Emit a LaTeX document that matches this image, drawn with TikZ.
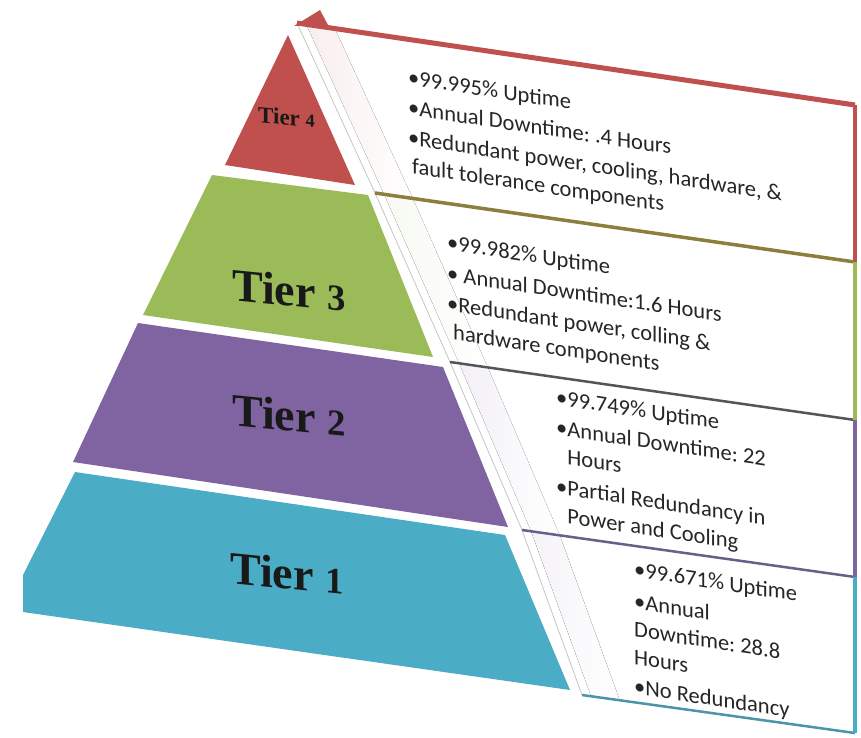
\documentclass[tikz,border=0pt]{standalone}
\usepackage{fontspec}
\usepackage{graphicx}
\setmainfont{Liberation Serif}
\newfontfamily\calibri{Carlito}
\usetikzlibrary{calc}

\definecolor{tred}{HTML}{C0504D}
\definecolor{tgreen}{HTML}{9BBB59}
\definecolor{tpurple}{HTML}{8064A2}
\definecolor{tteal}{HTML}{4BACC6}
\definecolor{olivebord}{HTML}{8C7F3C}
\definecolor{grisbord}{HTML}{55545A}
\definecolor{violbord}{HTML}{6A5F8A}
\definecolor{tealbord}{HTML}{4A95AA}

\newcommand{\chiffre}[2][0pt]{\raisebox{#1}{\scalebox{0.8}{#2}}}

\tikzset{
  palier/.style={font=\bfseries\fontsize{#1}{#1}\selectfont, anchor=base west,
    inner sep=0pt, yslant=-0.1, text=black!90},
  infos/.style={font=\calibri\fontsize{22.5}{28}\selectfont\frenchspacing, align=left,
    anchor=north west, inner sep=0pt, yslant=-0.15, text=black!85},
  bande/.style={left color=#1, right color=white, draw=none},
}

\begin{document}
\begin{tikzpicture}[x=1pt, y=-1pt]

  \useasboundingbox (0,0) rectangle (861,737);
  \fill[white] (0,0) rectangle (861,737);

  % Paliers
  \fill[tred] (288,35) -- (355,185) -- (225,165) -- cycle;
  \fill[tgreen] (212,175) -- (368,195) -- (433,357) -- (143,315) -- cycle;
  \fill[tpurple] (138,323) -- (443,367) -- (508,527) -- (73,462) -- cycle;
  \fill[tteal] (75,472) -- (505,535) -- (570,690) -- (23,612) -- (23,575) -- cycle;

  % Face de droite
  \coordinate (g0) at (297,23);
  \coordinate (g1) at (375,193);
  \coordinate (g2) at (450,362);
  \coordinate (g3) at (522,530);
  \coordinate (g4) at (582,695);
  \coordinate (d0) at (855,105);
  \coordinate (d1) at (855,262);
  \coordinate (d2) at (855,420);
  \coordinate (d3) at (855,577);
  \coordinate (d4) at (855,733);

  \foreach \i/\c in {0/tred!10, 1/tgreen!8, 2/tpurple!10, 3/tpurple!8} {
    \pgfmathtruncatemacro{\j}{\i+1}
    \fill[bande=\c] ($(g\i)+(9,1)$) -- ($(g\i)+(38,6)$) -- ($(g\j)+(38,6)$)
      -- ($(g\j)+(9,1)$) -- cycle;
  }
  \draw[gray!45, line width=0.8pt] (g0) -- (g1) -- (g2) -- (g3) -- (g4);

  % Bordures
  \draw[tred, line width=5pt] (g0) -- (d0);
  \fill[tred] (294,26) -- (320,10) -- (328,25) -- cycle;
  \draw[olivebord, line width=3.5pt] (g1) -- (d1);
  \draw[grisbord, line width=2.5pt] (g2) -- (d2);
  \draw[violbord, line width=2.5pt] (g3) -- (d3);
  \draw[tealbord, line width=2.5pt] (g4) -- (d4);

  \foreach \c [count=\i from 0] in {tred, tgreen, tpurple, tteal} {
    \pgfmathtruncatemacro{\j}{\i+1}
    \draw[\c, line width=4.5pt] (d\i) -- (d\j);
  }

  % Etiquettes
  \node[palier=23] (tier4) at (258,122) {Tier \chiffre{4}};
  \node[palier=46] (tier3) at (232,300) {Tier \chiffre{3}};
  \node[palier=46] (tier2) at (232,425) {Tier \chiffre{2}};
  \node[palier=46] (tier1) at (230,583) {Tier \chiffre{1}};

  % Textes
  \node[infos] (info4) at (408,65) {\strut•99.995\% Uptime\\[2pt]
    •Annual Downtime: .4 Hours\\[2pt]
    •Redundant power, cooling, hardware, \&\\
    \hspace*{4pt}fault tolerance components};
  \node[infos] (info3) at (447,230) {\strut•99.982\% Uptime\\[3pt]
    • Annual Downtime:1.6 Hours\\[2pt]
    •Redundant power, colling \&\\
    \hspace*{6pt}hardware components};
  \node[infos] (info2) at (556,385) {\strut•99.749\% Uptime\\[2pt]
    •Annual Downtime: 22\\
    \hphantom{•}Hours\\[3pt]
    •Partial Redundancy in\\
    \hphantom{•}Power and Cooling};
  \node[infos] (info1) at (634,557) {\strut•99.671\% Uptime\\[4pt]
    •Annual\\
    Downtime: 28.8\\
    Hours\\[1pt]
    •No Redundancy};

\end{tikzpicture}
\end{document}
